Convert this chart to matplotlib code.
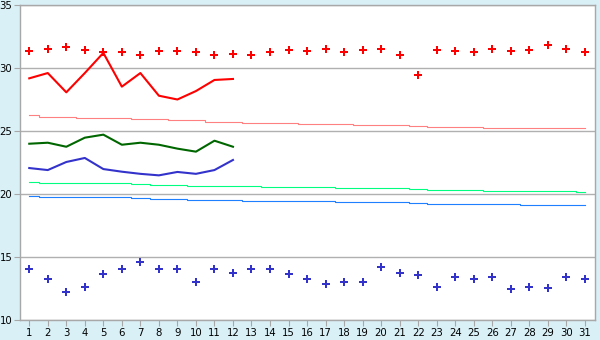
import matplotlib
matplotlib.use("Agg")
import matplotlib.pyplot as plt

days = list(range(1, 32))

# daily highs / lows (markers)
max_temp = [31.33, 31.48, 31.64, 31.4, 31.24, 31.24, 31.0, 31.33, 31.33, 31.24,
            31.0, 31.09, 31.0, 31.24, 31.4, 31.33, 31.48, 31.24, 31.4, 31.48,
            31.0, 29.42, 31.4, 31.33, 31.24, 31.48, 31.33, 31.4, 31.8, 31.48, 31.24]
min_temp = [14.02, 13.23, 12.2, 12.6, 13.63, 14.02, 14.58, 14.02, 14.02, 12.99,
            14.02, 13.7, 14.02, 14.02, 13.63, 13.23, 12.83, 12.99, 12.99, 14.18,
            13.7, 13.55, 12.6, 13.39, 13.23, 13.39, 12.44, 12.6, 12.52, 13.39, 13.23]

# current-year lines (days 1-12)
line_days = days[:12]
red_line = [29.18, 29.6, 28.07, 29.6, 31.2, 28.52, 29.6, 27.8, 27.5, 28.17, 29.05, 29.13]
green_line = [23.99, 24.07, 23.75, 24.47, 24.71, 23.91, 24.07, 23.91, 23.6, 23.36, 24.23, 23.75]
blue_line = [22.06, 21.9, 22.54, 22.86, 21.98, 21.77, 21.6, 21.48, 21.75, 21.6, 21.9, 22.7]

# normals
avg_max = [26.25, 26.1, 26.09, 26.05, 26.01, 26.0, 25.95, 25.93, 25.9, 25.85,
           25.75, 25.7, 25.67, 25.62, 25.6, 25.57, 25.53, 25.52, 25.48, 25.45,
           25.45, 25.42, 25.32, 25.29, 25.29, 25.27, 25.23, 25.21, 25.21, 25.2, 25.2]
avg_mid = [20.93, 20.85, 20.85, 20.85, 20.85, 20.85, 20.77, 20.69, 20.69, 20.65,
           20.61, 20.61, 20.6, 20.53, 20.53, 20.53, 20.53, 20.5, 20.45, 20.45,
           20.45, 20.37, 20.29, 20.29, 20.29, 20.27, 20.21, 20.21, 20.21, 20.2, 20.13]
avg_min = [19.82, 19.74, 19.74, 19.74, 19.74, 19.74, 19.66, 19.58, 19.58, 19.5,
           19.5, 19.5, 19.45, 19.42, 19.42, 19.42, 19.42, 19.4, 19.34, 19.34,
           19.34, 19.28, 19.18, 19.18, 19.18, 19.18, 19.18, 19.16, 19.1, 19.1, 19.1]

fig = plt.figure(figsize=(6, 3.4), dpi=100, facecolor="#D9F0F7")
ax = fig.add_axes([20 / 600, 1 - 320 / 340, 575 / 600, 315 / 340])
ax.set_facecolor("white")

ax.plot(days, avg_max, color="#FF8080", lw=0.8, drawstyle="steps-mid")
ax.plot(days, avg_mid, color="#00FF80", lw=0.8, drawstyle="steps-mid")
ax.plot(days, avg_min, color="#1E7FFF", lw=0.8, drawstyle="steps-mid")

ax.plot(line_days, red_line, color="#FF0000", lw=1.5)
ax.plot(line_days, green_line, color="#006600", lw=1.5)
ax.plot(line_days, blue_line, color="#3333CC", lw=1.5)

ax.plot(days, max_temp, ls="none", marker="P", ms=5.2, color="#FF0000", mew=0)
ax.plot(days, min_temp, ls="none", marker="P", ms=5.2, color="#3333CC", mew=0)

ax.set_xlim(0.5, 31.55)
ax.set_ylim(10, 35)
ax.set_yticks([10, 15, 20, 25, 30, 35])
ax.set_xticks(days)
ax.grid(axis="y", color="#B0B0B0", lw=1)
ax.set_axisbelow(True)
for s in ax.spines.values():
    s.set_color("#A8A8A8")
    s.set_linewidth(1)
ax.tick_params(colors="#A8A8A8", labelcolor="black", labelsize=7.3, length=4, pad=1.5)

fig.savefig("out.png", dpi=100, facecolor=fig.get_facecolor())
